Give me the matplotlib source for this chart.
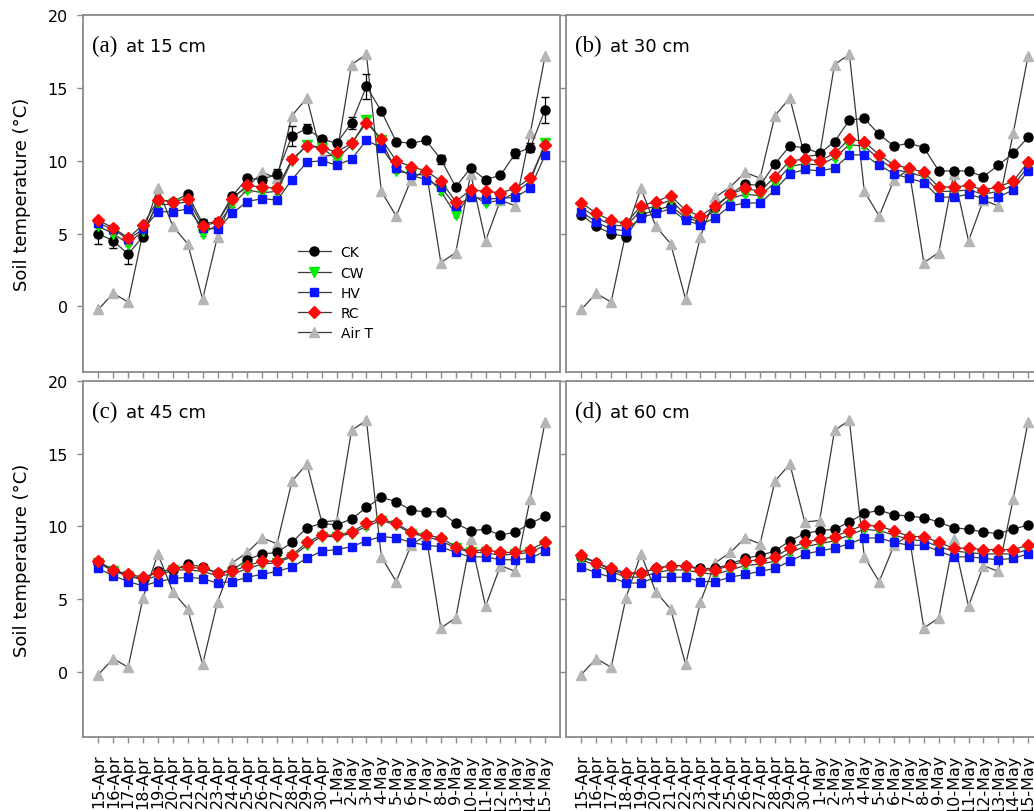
import numpy as np
import matplotlib.pyplot as plt

dates = ['15-Apr', '16-Apr', '17-Apr', '18-Apr', '19-Apr', '20-Apr', '21-Apr', '22-Apr',
         '23-Apr', '24-Apr', '25-Apr', '26-Apr', '27-Apr', '28-Apr', '29-Apr', '30-Apr',
         '1-May', '2-May', '3-May', '4-May', '5-May', '6-May', '7-May', '8-May',
         '9-May', '10-May', '11-May', '12-May', '13-May', '14-May', '15-May']

air_t = [-0.2, 0.9, 0.3, 5.1, 8.1, 5.5, 4.3, 0.5, 4.8, 7.5, 8.2, 9.2, 8.8, 13.1, 14.3, 10.3,
         10.4, 16.6, 17.3, 7.9, 6.2, 8.7, 9.4, 3.0, 3.7, 9.1, 4.5, 7.3, 6.9, 11.9, 17.2]

# 15 cm
ck_15 = [5.0, 4.5, 3.6, 4.8, 7.3, 7.2, 7.7, 5.7, 5.8, 7.6, 8.8, 8.7, 9.1, 11.7, 12.2, 11.5,
         11.2, 12.6, 15.1, 13.4, 11.3, 11.2, 11.4, 10.1, 8.2, 9.5, 8.7, 9.0, 10.5, 10.9, 13.5]
ck_15_err = [0.7, 0.5, 0.7, 0.2, 0.2, 0.2, 0.15, 0.3, 0.3, 0.2, 0.2, 0.2, 0.3, 0.7, 0.3, 0.2,
             0.2, 0.4, 0.85, 0.15, 0.15, 0.15, 0.15, 0.3, 0.2, 0.15, 0.2, 0.15, 0.3, 0.3, 0.9]
cw_15 = [5.5, 5.0, 4.3, 5.2, 7.0, 7.0, 7.2, 5.0, 5.6, 7.0, 8.0, 7.8, 7.9, 10.0, 11.1, 10.9,
         10.1, 11.1, 12.8, 11.4, 9.3, 9.1, 9.0, 7.9, 6.3, 7.7, 7.1, 7.3, 7.8, 8.6, 11.2]
hv_15 = [5.7, 5.3, 4.6, 5.3, 6.5, 6.5, 6.7, 5.4, 5.3, 6.4, 7.2, 7.4, 7.3, 8.7, 9.9, 10.0,
         9.7, 10.1, 11.4, 10.9, 9.5, 9.0, 8.7, 8.2, 6.9, 7.5, 7.4, 7.4, 7.5, 8.1, 10.4]
rc_15 = [5.9, 5.4, 4.7, 5.6, 7.3, 7.2, 7.4, 5.5, 5.8, 7.4, 8.3, 8.2, 8.1, 10.1, 11.0, 10.9,
         10.6, 11.2, 12.6, 11.5, 10.0, 9.6, 9.3, 8.6, 7.2, 8.0, 7.9, 7.8, 8.1, 8.8, 11.1]

# 30 cm
ck_30 = [6.3, 5.5, 5.0, 4.8, 6.3, 6.6, 6.9, 6.1, 5.8, 6.8, 7.7, 8.4, 8.3, 9.8, 11.0, 10.9,
         10.5, 11.3, 12.8, 12.9, 11.8, 11.0, 11.2, 10.9, 9.3, 9.3, 9.3, 8.9, 9.7, 10.5, 11.6]
cw_30 = [6.8, 6.1, 5.6, 5.5, 6.6, 6.9, 7.3, 6.3, 5.9, 6.6, 7.4, 7.7, 7.6, 8.5, 9.6, 9.8,
         9.7, 10.2, 11.1, 11.0, 10.1, 9.4, 9.2, 8.9, 7.9, 7.9, 8.0, 7.7, 7.9, 8.3, 9.6]
hv_30 = [6.5, 5.8, 5.3, 5.2, 6.1, 6.4, 6.7, 5.9, 5.6, 6.1, 6.9, 7.1, 7.1, 8.0, 9.1, 9.4,
         9.3, 9.5, 10.4, 10.4, 9.7, 9.1, 8.8, 8.5, 7.5, 7.5, 7.7, 7.4, 7.5, 8.0, 9.3]
rc_30 = [7.1, 6.4, 5.9, 5.7, 6.9, 7.2, 7.6, 6.6, 6.2, 6.9, 7.7, 8.1, 7.9, 8.9, 10.0, 10.1,
         10.0, 10.5, 11.5, 11.3, 10.4, 9.7, 9.5, 9.2, 8.2, 8.2, 8.3, 8.0, 8.2, 8.6, 9.9]

# 45 cm
ck_45 = [7.5, 7.0, 6.6, 6.4, 6.9, 7.0, 7.4, 7.2, 6.8, 7.0, 7.7, 8.1, 8.2, 8.9, 9.9, 10.2,
         10.1, 10.5, 11.3, 12.0, 11.7, 11.1, 11.0, 11.0, 10.2, 9.7, 9.8, 9.4, 9.6, 10.2, 10.7]
cw_45 = [7.5, 6.9, 6.6, 6.3, 6.6, 7.0, 7.0, 6.9, 6.6, 6.7, 7.1, 7.4, 7.5, 7.9, 8.7, 9.3,
         9.3, 9.5, 10.0, 10.4, 10.1, 9.5, 9.3, 9.0, 8.5, 8.2, 8.2, 8.0, 8.1, 8.2, 8.7]
hv_45 = [7.1, 6.6, 6.2, 5.9, 6.2, 6.4, 6.5, 6.4, 6.1, 6.2, 6.5, 6.7, 6.9, 7.2, 7.8, 8.3,
         8.4, 8.6, 9.0, 9.3, 9.2, 8.9, 8.7, 8.6, 8.2, 7.9, 7.9, 7.7, 7.7, 7.8, 8.3]
rc_45 = [7.6, 7.0, 6.7, 6.5, 6.8, 7.1, 7.2, 7.1, 6.8, 6.9, 7.3, 7.6, 7.6, 8.0, 8.9, 9.4,
         9.4, 9.6, 10.2, 10.5, 10.2, 9.6, 9.4, 9.2, 8.6, 8.3, 8.4, 8.2, 8.2, 8.4, 8.9]

# 60 cm
ck_60 = [7.9, 7.5, 7.0, 6.7, 6.8, 7.1, 7.3, 7.3, 7.1, 7.1, 7.4, 7.8, 8.0, 8.3, 9.0, 9.5,
         9.7, 9.8, 10.3, 10.9, 11.1, 10.8, 10.7, 10.6, 10.3, 9.9, 9.8, 9.6, 9.5, 9.8, 10.1]
cw_60 = [7.7, 7.3, 6.9, 6.5, 6.5, 6.8, 7.0, 7.0, 6.8, 6.7, 7.0, 7.3, 7.4, 7.6, 8.2, 8.6,
         8.8, 9.0, 9.4, 9.8, 9.7, 9.4, 9.1, 9.0, 8.6, 8.3, 8.2, 8.1, 8.1, 8.1, 8.4]
hv_60 = [7.2, 6.8, 6.5, 6.1, 6.1, 6.5, 6.5, 6.5, 6.2, 6.2, 6.5, 6.7, 6.9, 7.1, 7.6, 8.1,
         8.3, 8.5, 8.8, 9.2, 9.2, 8.9, 8.7, 8.7, 8.3, 7.9, 7.9, 7.8, 7.7, 7.8, 8.1]
rc_60 = [8.0, 7.5, 7.1, 6.8, 6.8, 7.1, 7.3, 7.3, 7.0, 7.0, 7.3, 7.6, 7.7, 7.9, 8.5, 8.9,
         9.1, 9.3, 9.7, 10.1, 10.0, 9.7, 9.3, 9.3, 8.9, 8.5, 8.5, 8.4, 8.4, 8.4, 8.7]

err_small = 0.15

panels = [
    ('(a)', 'at 15 cm', ck_15, ck_15_err, cw_15, hv_15, rc_15),
    ('(b)', 'at 30 cm', ck_30, err_small, cw_30, hv_30, rc_30),
    ('(c)', 'at 45 cm', ck_45, err_small, cw_45, hv_45, rc_45),
    ('(d)', 'at 60 cm', ck_60, err_small, cw_60, hv_60, rc_60),
]

frame = '#8a8a8a'
line_c = '#3a3a3a'

fig = plt.figure(figsize=(10.34, 8.12), dpi=100)
# right column runs a little past the figure edge, as in the cropped original
positions = [
    [0.0803, 0.5406, 0.4613, 0.4397],
    [0.5474, 0.5406, 0.4613, 0.4397],
    [0.0803, 0.0911, 0.4613, 0.4384],
    [0.5474, 0.0911, 0.4613, 0.4384],
]

x = np.arange(len(dates))

for i, (tag, depth, ck, ck_err, cw, hv, rc) in enumerate(panels):
    ax = fig.add_axes(positions[i])

    ax.plot(x, air_t, color=line_c, lw=0.9, marker='^', ms=7, mfc='#b5b5b5', mec='#b5b5b5',
            label='Air T', zorder=2)
    ax.errorbar(x, ck, yerr=ck_err, fmt='none', ecolor='black', elinewidth=0.9, capsize=3,
                zorder=3)
    ax.plot(x, ck, color=line_c, lw=0.9, marker='o', ms=6.5, mfc='black', mec='black',
            label='CK', zorder=3)
    ax.errorbar(x, cw, yerr=err_small, fmt='none', ecolor=line_c, elinewidth=0.8, capsize=2.5,
                zorder=4)
    ax.plot(x, cw, color=line_c, lw=0.9, marker='v', ms=7, mfc='#00ee00', mec='#00ee00',
            label='CW', zorder=4)
    ax.errorbar(x, hv, yerr=err_small, fmt='none', ecolor=line_c, elinewidth=0.8, capsize=2.5,
                zorder=5)
    ax.plot(x, hv, color=line_c, lw=0.9, marker='s', ms=6, mfc='#0a14ff', mec='#0a14ff',
            label='HV', zorder=5)
    ax.errorbar(x, rc, yerr=err_small, fmt='none', ecolor=line_c, elinewidth=0.8, capsize=2.5,
                zorder=6)
    ax.plot(x, rc, color=line_c, lw=0.9, marker='D', ms=6.5, mfc='#ff0a0a', mec='#ff0a0a',
            label='RC', zorder=6)

    ax.set_xlim(-1.03, 31.0)
    ax.set_ylim(-4.5, 20)
    ax.set_yticks([0, 5, 10, 15, 20])
    ax.set_xticks(x)

    for s in ax.spines.values():
        s.set_color(frame)
        s.set_linewidth(1.3)
    ax.tick_params(direction='out', length=4, width=1, color=frame, labelsize=11.5, pad=7)
    ax.tick_params(axis='x', pad=8)

    if i >= 2:
        ax.set_xticklabels(dates, rotation=90, fontsize=11.5)
    else:
        ax.set_xticklabels([])
    if i % 2 == 0:
        ax.set_ylabel('Soil temperature (\u00b0C)', fontsize=13, labelpad=12)
    else:
        ax.set_yticklabels([])

    t1 = ax.text(0.019, 0.9, tag, transform=ax.transAxes, fontsize=16.5,
                 family='Liberation Serif', va='baseline', ha='left')
    ax.annotate(depth, xy=(1, 0.9), xycoords=(t1, 'axes fraction'), xytext=(6, 0),
                textcoords='offset points', fontsize=13, va='baseline', ha='left')

    if i == 0:
        h, l = ax.get_legend_handles_labels()
        order = [1, 2, 3, 4, 0]
        ax.legend([h[k] for k in order], [l[k] for k in order], loc='upper left',
                  bbox_to_anchor=(0.45, 0.355), frameon=False, fontsize=10,
                  handlelength=2.4, handletextpad=0.7, labelspacing=0.45,
                  borderpad=0, borderaxespad=0)

plt.savefig('out.png', dpi=100)
